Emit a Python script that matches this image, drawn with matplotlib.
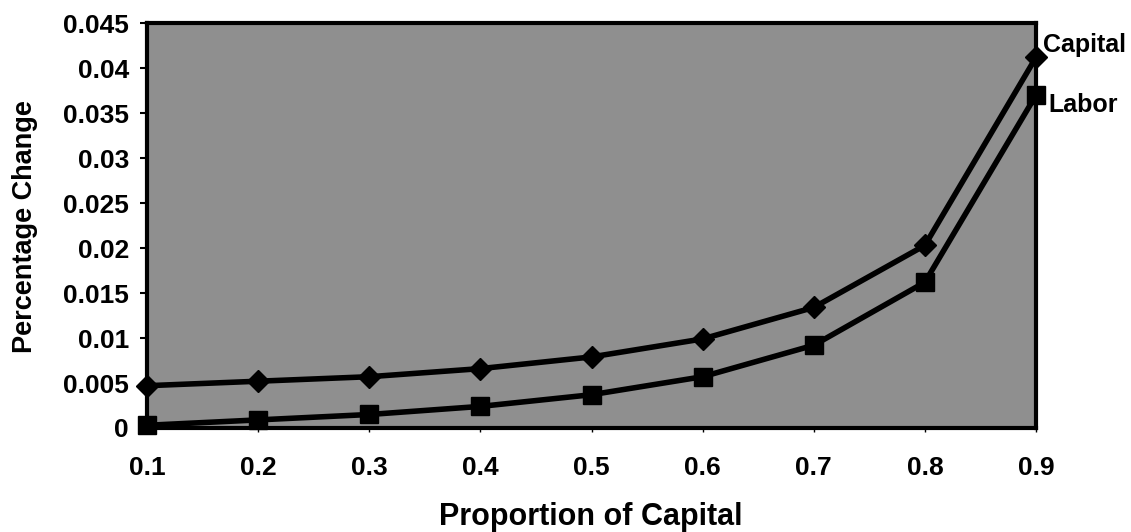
import matplotlib
matplotlib.use('Agg')
import matplotlib.pyplot as plt

plt.rcParams['font.family'] = ['Liberation Sans', 'DejaVu Sans']

proportion = [0.1, 0.2, 0.3, 0.4, 0.5, 0.6, 0.7, 0.8, 0.9]
capital = [0.0047, 0.0052, 0.0057, 0.0066, 0.0079, 0.0099, 0.0134, 0.0203, 0.0412]
labor = [0.0003, 0.0009, 0.0015, 0.0024, 0.0037, 0.0057, 0.0092, 0.0162, 0.0370]
y_ticks = [0, 0.005, 0.01, 0.015, 0.02, 0.025, 0.03, 0.035, 0.04, 0.045]
y_tick_labels = ['0', '0.005', '0.01', '0.015', '0.02', '0.025', '0.03', '0.035', '0.04', '0.045']

fig = plt.figure(figsize=(11.31, 5.32), dpi=100)
ax = fig.add_axes([0.130, 0.1955, 0.786, 0.761])
ax.set_facecolor('#8f8f8f')

ax.plot(proportion, capital, color='black', lw=4, marker='D', ms=11,
        mec='black', mfc='black', clip_on=False, zorder=3)
ax.plot(proportion, labor, color='black', lw=4, marker='s', ms=13,
        mec='black', mfc='black', clip_on=False, zorder=3)

# series names next to the last points
ax.annotate('Capital', (proportion[-1], capital[-1]), xytext=(5, 9),
            textcoords='offset points', fontsize=18, fontweight='bold',
            va='center', ha='left', annotation_clip=False)
ax.annotate('Labor', (proportion[-1], labor[-1]), xytext=(9, -7),
            textcoords='offset points', fontsize=18, fontweight='bold',
            va='center', ha='left', annotation_clip=False)

ax.set_xlim(0.1, 0.9)
ax.set_ylim(0, 0.045)
ax.set_xticks(proportion)
ax.set_xticklabels([str(p) for p in proportion], fontweight='bold')
ax.set_yticks(y_ticks)
ax.set_yticklabels(y_tick_labels, fontweight='bold')

ax.tick_params(axis='y', direction='out', length=5, width=1.5, pad=8, labelsize=19)
ax.tick_params(axis='x', direction='out', length=3, width=1, pad=17, labelsize=19)

for s in ax.spines.values():
    s.set_linewidth(3)
    s.set_color('black')

fig.text(0.022, 0.5745, 'Percentage Change', rotation=90, fontsize=19.5,
         fontweight='bold', ha='center', va='center')
fig.text(0.522, 0.013, 'Proportion of Capital', fontsize=22,
         fontweight='bold', ha='center', va='baseline')

fig.savefig('out.png', dpi=100)
